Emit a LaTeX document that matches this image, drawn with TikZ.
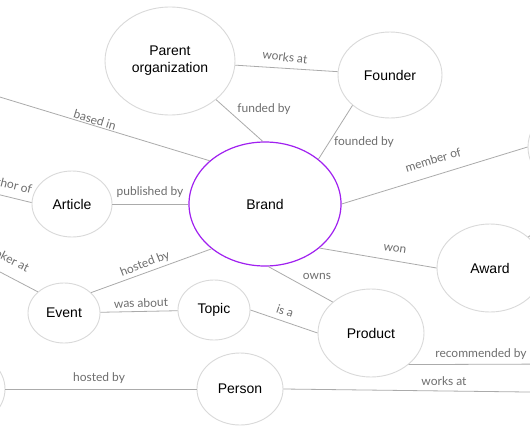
\documentclass[tikz,border=0pt]{standalone}
\usepackage{fontspec}
\setmainfont{Liberation Sans}
\newfontfamily\lblfont{Lato}
\usetikzlibrary{shapes.geometric}
\definecolor{nodeline}{HTML}{D9D9D9}
\definecolor{brandline}{HTML}{A020F0}
\definecolor{edgeline}{HTML}{ABABAB}
\definecolor{lbltext}{HTML}{6E6E6E}
\begin{document}
\begin{tikzpicture}[x=1pt,y=-1pt,
  ent/.style={ellipse, draw=nodeline, line width=0.9pt, inner sep=0pt,
    font=\fontsize{14}{17}\selectfont, align=center, text=black},
  rel/.style={draw=edgeline, line width=0.8pt},
  lbl/.style={font=\lblfont\fontsize{12}{14}\selectfont, text=lbltext, inner sep=1pt}]
\clip (0,0) rectangle (530,442);
\fill[white] (0,0) rectangle (530,442);
% entities
\node[ent, minimum width=130pt, minimum height=108pt] (parent) at (170,61) {Parent\\organization};
\node[ent, minimum width=104pt, minimum height=86pt] (founder) at (390,75) {Founder};
\node[ent, draw=brandline, line width=1.2pt, minimum width=152pt, minimum height=124pt] (brand) at (265,204) {Brand};
\node[ent, minimum width=80pt, minimum height=66pt] (article) at (72,204) {Article};
\node[ent, minimum width=72pt, minimum height=60pt] (event) at (64,313) {Event};
\node[ent, minimum width=72pt, minimum height=60pt] (topic) at (214,310) {Topic};
\node[ent, minimum width=86pt, minimum height=72pt] (person) at (240,389) {Person};
\node[ent, minimum width=106pt, minimum height=88pt] (product) at (371,333) {Product};
\node[ent, minimum width=106pt, minimum height=88pt] (award) at (490,268) {Award};
\node[ent, minimum width=104pt, minimum height=88pt] (rightent) at (580,147) {};
\node[ent, minimum width=80pt, minimum height=72pt] (leftent) at (-35,389) {};
% free ends
\coordinate (basedfar) at (-20,91);
\coordinate (authorfar) at (-20,190);
\coordinate (speakerfar) at (-20,261.5);
\coordinate (awardfar) at (560,213);
\coordinate (recfar) at (560,364);
\coordinate (worksfar) at (560,392.4);
% connectors
\draw[rel] (parent) -- (founder);
\draw[rel] (parent.-40) -- (brand.92);
\draw[rel] (founder.-141) -- (brand.40);
\draw[rel] (basedfar) -- (brand.142);
\draw[rel] (article.0) -- (brand.180);
\draw[rel] (authorfar) -- (article.178);
\draw[rel] (speakerfar) -- (event.141);
\draw[rel] (event.37) -- (brand.-140);
\draw[rel] (event) -- (topic);
\draw[rel] (topic.0) -- (product.180);
\draw[rel] (brand.-87) -- (product.141);
\draw[rel] (brand.-39) -- (award.180);
\draw[rel] (brand.0) -- (rightent.180);
\draw[rel] (award.39) -- (awardfar);
\draw[rel] (product.-40) -- (recfar);
\draw[rel] (person.0) -- (worksfar);
\draw[rel] (leftent.0) -- (person.180);
% labels
\node[lbl, rotate=-7] (l1) at (285,57) {works at};
\node[lbl] (l2) at (264,109) {funded by};
\node[lbl] (l3) at (364,142) {founded by};
\node[lbl, rotate=-17] (l4) at (95,120) {based in};
\node[lbl] (l5) at (150,192) {published by};
\node[lbl, rotate=-14, anchor=east] (l6) at (33,190) {author of};
\node[lbl, rotate=-27, anchor=east] (l7) at (29,270) {speaker at};
\node[lbl, rotate=21] (l8) at (145,264) {hosted by};
\node[lbl, rotate=2] (l9) at (141,303) {was about};
\node[lbl, rotate=-19] (l10) at (285,311) {is a};
\node[lbl] (l11) at (317,276) {owns};
\node[lbl, rotate=-9] (l12) at (395,249) {won};
\node[lbl, rotate=17] (l13) at (433,160) {member of};
\node[lbl] (l14) at (99,378) {hosted by};
\node[lbl] (l15) at (481,354) {recommended by};
\node[lbl] (l16) at (444,381) {works at};
\end{tikzpicture}
\end{document}
